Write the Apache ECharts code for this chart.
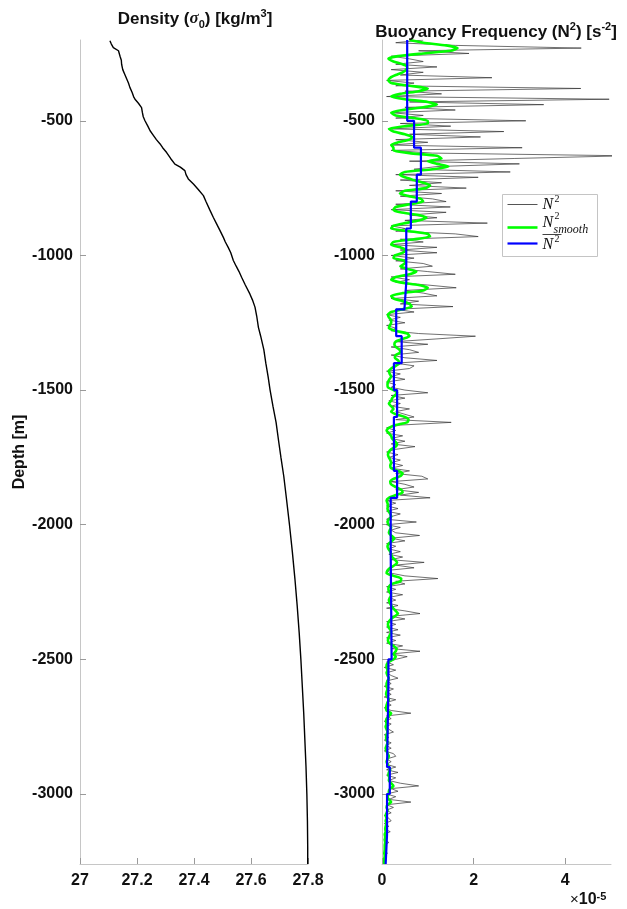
<!DOCTYPE html>
<html>
<head>
<meta charset="utf-8">
<script src="https://cdn.jsdelivr.net/npm/echarts@6/dist/echarts.min.js"></script>
<style>
  html, body { margin: 0; padding: 0; background: #fff; }
  #chart { width: 627px; height: 909px; }
</style>
</head>
<body>
<div id="chart"></div>
<script>
// ---- Potential density profile (sigma_0, kg/m^3) ----
const densityDepth = [
  -203, -215, -228, -240, -247, -262, -275, -290, -310, -330,
  -345, -360, -376, -395, -410, -420, -435, -451, -470, -485,
  -500, -520, -537, -555, -570, -586, -600, -618, -640, -661,
  -672, -685, -700, -716, -735, -755, -778, -800, -830, -859,
  -880, -905, -933, -950, -970, -990, -1019, -1040, -1060, -1081,
  -1110, -1143, -1165, -1192, -1225, -1267, -1300, -1350, -1400, -1450,
  -1500, -1560, -1620, -1690, -1750, -1820, -1900, -2000, -2100, -2200,
  -2300, -2400, -2500, -2600, -2700, -2800, -2900, -3000, -3100, -3200, -3260
];
const densitySigma = [
  27.105, 27.110, 27.117, 27.135, 27.140, 27.141, 27.145, 27.146, 27.150, 27.158,
  27.164, 27.170, 27.175, 27.183, 27.188, 27.193, 27.205, 27.216, 27.219, 27.222,
  27.228, 27.238, 27.246, 27.258, 27.268, 27.281, 27.290, 27.304, 27.318, 27.333,
  27.352, 27.368, 27.372, 27.380, 27.398, 27.415, 27.433, 27.442, 27.455, 27.468,
  27.478, 27.490, 27.503, 27.510, 27.520, 27.529, 27.538, 27.548, 27.558, 27.567,
  27.580, 27.596, 27.605, 27.614, 27.620, 27.626, 27.634, 27.645, 27.652, 27.660,
  27.667, 27.677, 27.688, 27.697, 27.705, 27.715, 27.724, 27.735, 27.745, 27.754,
  27.762, 27.769, 27.775, 27.780, 27.785, 27.789, 27.793, 27.796, 27.798, 27.799, 27.799
];

// ---- Buoyancy frequency N^2 (units of 1e-5 s^-2), sampled every 10 m from 200 m ----
const n2TopDepth = -200;
const n2StepDepth = 10;
const n2Raw = [
  0.9, 0.3, 1.6, 4.35, 0.8, 1.9, 0.2, 0.6, 0.9, 0.3,        // -200
  1.2, 0.2, 0.9, 0.4, 2.4, 0.1, 0.7, 0.3, 4.34, 0.5,        // -300
  1.3, 0.1, 4.96, 0.6, 3.53, 0.5, 1.6, 0.2, 0.9, 0.3,       // -400
  3.14, 0.4, 1.5, 0.2, 2.66, 0.6, 2.15, 0.3, 1.0, 0.2,      // -500
  3.06, 0.2, 1.1, 5.3, 2.9, 0.6, 3.0, 1.2, 0.7, 2.8,        // -600
  0.3, 2.1, 0.4, 1.3, 0.6, 1.84, 0.3, 1.3, 0.4, 1.1,        // -700
  1.4, 0.3, 1.49, 0.2, 1.4, 0.6, 1.2, 0.5, 2.3, 0.2,        // -800
  0.5, 0.3, 1.6, 2.1, 0.4, 0.9, 0.2, 1.2, 0.4, 1.2,         // -900
  0.2, 0.7, 0.3, 0.9, 1.1, 0.4, 1.0, 1.6, 0.2, 0.6,         // -1000
  0.3, 1.0, 1.62, 0.5, 0.9, 1.2, 0.2, 0.8, 0.4, 1.55,       // -1100
  0.3, 0.7, 0.1, 0.4, 0.15, 0.5, 0.1, 0.3, 0.2, 0.8,        // -1200
  2.04, 1.2, 0.3, 1.0, 0.2, 0.6, 0.8, 0.2, 0.5, 1.2,        // -1300
  0.3, 0.7, 0.6, 0.1, 0.4, 0.2, 0.5, 0.1, 0.3, 0.2,         // -1400
  0.5, 1.0, 0.2, 0.5, 0.15, 0.4, 0.2, 0.6, 0.3, 0.5,        // -1500
  0.7, 0.3, 1.51, 0.4, 0.1, 0.3, 0.1, 0.45, 0.2, 0.5,       // -1600
  0.2, 0.72, 0.3, 0.1, 0.35, 0.15, 0.4, 0.2, 0.45, 0.2,     // -1700
  0.6, 0.3, 0.87, 1.0, 0.2, 0.5, 0.7, 0.3, 0.8, 0.4,        // -1800
  1.05, 0.1, 0.3, 0.1, 0.35, 0.1, 0.4, 0.2, 0.1, 0.75,      // -1900
  0.1, 0.4, 0.2, 0.3, 0.82, 0.2, 0.5, 0.1, 0.3, 0.15,       // -2000
  0.4, 0.15, 0.45, 0.2, 0.92, 0.3, 0.7, 0.1, 0.2, 0.5,      // -2100
  1.22, 0.3, 0.5, 0.1, 0.3, 0.1, 0.45, 0.15, 0.3, 0.1,      // -2200
  0.35, 0.1, 0.5, 0.83, 0.2, 0.5, 0.1, 0.3, 0.1, 0.35,      // -2300
  0.1, 0.4, 0.1, 0.3, 0.1, 0.45, 0.2, 0.83, 0.2, 0.55,      // -2400
  0.3, 0.1, 0.25, 0.05, 0.3, 0.1, 0.2, 0.35, 0.1, 0.2,      // -2500
  0.05, 0.25, 0.1, 0.2, 0.05, 0.3, 0.1, 0.2, 0.05, 0.2,     // -2600
  0.63, 0.1, 0.2, 0.05, 0.2, 0.1, 0.15, 0.25, 0.05, 0.15,   // -2700
  0.05, 0.2, 0.1, 0.2, 0.05, 0.25, 0.3, 0.1, 0.2, 0.1,      // -2800
  0.3, 0.1, 0.35, 0.1, 0.3, 0.15, 0.4, 0.8, 0.2, 0.35,      // -2900
  0.1, 0.3, 0.15, 0.63, 0.1, 0.25, 0.1, 0.2, 0.05, 0.15,    // -3000
  0.2, 0.05, 0.15, 0.05, 0.18, 0.05, 0.12, 0.04, 0.15, 0.05,// -3100
  0.1, 0.04, 0.12, 0.05, 0.08, 0.04, 0.06                   // -3200
];
const n2Smooth = [
  0.6, 0.9, 1.4, 1.65, 1.5, 0.9, 0.35, 0.14, 0.25, 0.45,     // -200
  0.55, 0.53, 0.45, 0.3, 0.18, 0.14, 0.2, 0.6, 1.0, 0.8,     // -300
  0.4, 0.2, 0.5, 1.0, 1.2, 0.9, 0.45, 0.2, 0.3, 0.7,         // -400
  1.0, 1.0, 0.5, 0.15, 0.25, 0.5, 0.66, 0.6, 0.35, 0.2,      // -500
  0.25, 0.25, 0.6, 1.2, 1.3, 1.0, 1.2, 1.45, 1.1, 0.5,       // -600
  0.39, 0.5, 0.7, 0.9, 1.05, 0.95, 0.5, 0.39, 0.6, 0.85,     // -700
  0.9, 0.6, 0.3, 0.25, 0.4, 0.8, 0.97, 0.8, 0.5, 0.25,       // -800
  0.2, 0.6, 1.0, 1.05, 0.7, 0.25, 0.2, 0.4, 0.53, 0.45,      // -900
  0.28, 0.25, 0.5, 0.5, 0.4, 0.55, 0.75, 0.6, 0.3, 0.2,      // -1000
  0.4, 0.8, 1.0, 0.9, 0.45, 0.2, 0.25, 0.45, 0.6, 0.65,      // -1100
  0.45, 0.2, 0.13, 0.15, 0.2, 0.2, 0.17, 0.15, 0.3, 0.55,    // -1200
  0.6, 0.45, 0.3, 0.27, 0.3, 0.38, 0.4, 0.3, 0.28, 0.35,     // -1300
  0.38, 0.3, 0.2, 0.15, 0.17, 0.2, 0.16, 0.13, 0.12, 0.13,   // -1400
  0.25, 0.33, 0.28, 0.22, 0.2, 0.15, 0.2, 0.25, 0.2, 0.3,    // -1500
  0.5, 0.58, 0.55, 0.3, 0.15, 0.1, 0.15, 0.2, 0.22, 0.28,    // -1600
  0.33, 0.3, 0.2, 0.15, 0.13, 0.15, 0.18, 0.2, 0.18, 0.2,    // -1700
  0.35, 0.45, 0.4, 0.25, 0.18, 0.2, 0.3, 0.42, 0.45, 0.3,    // -1800
  0.15, 0.1, 0.12, 0.13, 0.12, 0.14, 0.18, 0.2, 0.15, 0.12,  // -1900
  0.15, 0.2, 0.17, 0.15, 0.2, 0.27, 0.22, 0.15, 0.12, 0.14,  // -2000
  0.18, 0.2, 0.22, 0.28, 0.33, 0.28, 0.18, 0.12, 0.1, 0.25,  // -2100
  0.42, 0.4, 0.22, 0.15, 0.14, 0.16, 0.2, 0.18, 0.15, 0.17,  // -2200
  0.2, 0.24, 0.3, 0.35, 0.28, 0.2, 0.15, 0.13, 0.14, 0.18,   // -2300
  0.2, 0.17, 0.14, 0.13, 0.16, 0.25, 0.32, 0.3, 0.25, 0.3,   // -2400
  0.25, 0.15, 0.1, 0.1, 0.12, 0.1, 0.12, 0.15, 0.12, 0.1,    // -2500
  0.1, 0.12, 0.1, 0.09, 0.12, 0.15, 0.12, 0.1, 0.09, 0.1,    // -2600
  0.2, 0.15, 0.1, 0.09, 0.1, 0.08, 0.1, 0.12, 0.1, 0.09,     // -2700
  0.1, 0.12, 0.1, 0.08, 0.1, 0.12, 0.15, 0.12, 0.1, 0.12,    // -2800
  0.15, 0.18, 0.15, 0.14, 0.16, 0.15, 0.2, 0.25, 0.18, 0.15, // -2900
  0.15, 0.12, 0.15, 0.2, 0.12, 0.1, 0.12, 0.1, 0.08, 0.1,    // -3000
  0.08, 0.1, 0.08, 0.07, 0.08, 0.06, 0.07, 0.06, 0.07, 0.06, // -3100
  0.06, 0.06, 0.05, 0.06, 0.05, 0.05, 0.05                   // -3200
];

// ---- Layer-mean N^2 (units of 1e-5 s^-2) ----
const layerTop    = [-200, -500, -600, -700, -800, -900, -1100, -1200, -1300, -1400, -1500, -1600, -1800, -1900, -2100, -2500, -2600, -2900, -3000, -3150];
const layerBottom = [-500, -600, -700, -800, -900, -1100, -1200, -1300, -1400, -1500, -1600, -1800, -1900, -2100, -2500, -2600, -2900, -3000, -3150, -3260];
const layerMean   = [0.55, 0.70, 0.85, 0.76, 0.63, 0.53, 0.49, 0.31, 0.43, 0.26, 0.33, 0.26, 0.33, 0.19, 0.21, 0.14, 0.11, 0.17, 0.11, 0.08];

// ---- Axis ticks ----
const depthTicks = [-3000, -2500, -2000, -1500, -1000, -500];
const sigmaTicks = [27, 27.2, 27.4, 27.6, 27.8];
const n2Ticks = [0, 2, 4];

const depthMin = -3260, depthMax = -200;

const SANS = '"Liberation Sans", Arial, Helvetica, sans-serif';
const SERIF = '"Liberation Serif", "DejaVu Serif", serif';
const INK = '#111';
const AXIS_GREY = '#c6c6c6';
const TICK_GREY = '#9a9a9a';

const n2Depth = n2Raw.map((_, i) => n2TopDepth - i * n2StepDepth);
const rawPoints = n2Raw.map((v, i) => [v, n2Depth[i]]);
const smoothPoints = n2Smooth.map((v, i) => [v, n2Depth[i]]);
const meanPoints = [];
layerMean.forEach((v, i) => {
  meanPoints.push([v, layerTop[i]]);
  meanPoints.push([v, layerBottom[i]]);
});
const densityPoints = densitySigma.map((s, i) => [s, densityDepth[i]]);

const plainNumber = v => String(v);

function depthAxis(gridIndex, withName) {
  const ax = {
    type: 'value', gridIndex, min: depthMin, max: depthMax,
    axisLine: { show: true, onZero: false, lineStyle: { color: AXIS_GREY, width: 1 } },
    axisTick: { show: true, inside: true, length: 6, customValues: depthTicks, lineStyle: { color: TICK_GREY } },
    axisLabel: { customValues: depthTicks, formatter: plainNumber, fontFamily: SANS, fontWeight: 'bold', fontSize: 16, color: INK, margin: 7 },
    splitLine: { show: false }
  };
  if (withName) {
    ax.name = 'Depth [m]';
    ax.nameLocation = 'middle';
    ax.nameGap = 52;
    ax.nameTextStyle = { fontFamily: SANS, fontWeight: 'bold', fontSize: 16, color: INK };
  }
  return ax;
}

const titleRich = {
  b: { fontFamily: SANS, fontWeight: 'bold', fontSize: 17, color: INK, lineHeight: 22 },
  g: { fontFamily: SERIF, fontStyle: 'italic', fontSize: 17, color: INK, lineHeight: 22 },
  sup: { fontFamily: SANS, fontWeight: 'bold', fontSize: 11, color: INK, lineHeight: 11, verticalAlign: 'top' },
  sub: { fontFamily: SANS, fontWeight: 'bold', fontSize: 11, color: INK, lineHeight: 11, verticalAlign: 'bottom' }
};

const chart = echarts.init(document.getElementById('chart'), null, { renderer: 'canvas' });
chart.setOption({
  animation: false,
  backgroundColor: '#fff',
  title: [
    {
      text: '{b|Density (}{g|σ}{sub|0}{b|) [kg/m}{sup|3}{b|]}',
      left: 190, top: 3, textAlign: 'center',
      textStyle: { rich: titleRich }
    },
    {
      text: '{b|Buoyancy Frequency (N}{sup|2}{b|) [s}{sup|-2}{b|]}',
      left: 491, top: 16, textAlign: 'center',
      textStyle: { rich: titleRich }
    }
  ],
  grid: [
    { left: 80, right: 319, top: 40, bottom: 45 },
    { left: 382, right: 16, top: 40, bottom: 45 }
  ],
  xAxis: [
    {
      type: 'value', gridIndex: 0, min: 27, max: 27.8,
      axisLine: { show: true, onZero: false, lineStyle: { color: AXIS_GREY, width: 1 } },
      axisTick: { show: true, inside: true, length: 6, customValues: sigmaTicks, lineStyle: { color: TICK_GREY } },
      axisLabel: { customValues: sigmaTicks, formatter: plainNumber, fontFamily: SANS, fontWeight: 'bold', fontSize: 16, color: INK, margin: 9 },
      splitLine: { show: false }
    },
    {
      type: 'value', gridIndex: 1, min: 0, max: 5,
      axisLine: { show: true, onZero: false, lineStyle: { color: AXIS_GREY, width: 1 } },
      axisTick: { show: true, inside: true, length: 6, customValues: n2Ticks, lineStyle: { color: TICK_GREY } },
      axisLabel: { customValues: n2Ticks, formatter: plainNumber, fontFamily: SANS, fontWeight: 'bold', fontSize: 16, color: INK, margin: 9 },
      splitLine: { show: false }
    }
  ],
  yAxis: [depthAxis(0, true), depthAxis(1, false)],
  series: [
    {
      name: 'sigma0', type: 'line', xAxisIndex: 0, yAxisIndex: 0,
      data: densityPoints, showSymbol: false, symbol: 'none',
      lineStyle: { color: '#000', width: 1.4 }
    },
    {
      name: 'N2', type: 'line', xAxisIndex: 1, yAxisIndex: 1,
      data: rawPoints, symbol: 'none', clip: true,
      lineStyle: { color: '#333', width: 0.7 }
    },
    {
      name: 'N2 smooth', type: 'line', xAxisIndex: 1, yAxisIndex: 1,
      data: smoothPoints, symbol: 'none', smooth: 0.2, clip: true,
      lineStyle: { color: '#00ff00', width: 2.6 }
    },
    {
      name: 'N2 mean', type: 'line', xAxisIndex: 1, yAxisIndex: 1,
      data: meanPoints, symbol: 'none', clip: true,
      lineStyle: { color: '#0000ff', width: 2.2 }
    }
  ],
  graphic: [
    // scale factor for the N^2 axis
    {
      type: 'text', left: 570, top: 891,
      style: {
        text: '{x|×}{t|10}{s|-5}',
        rich: {
          x: { fontFamily: SANS, fontSize: 15, fill: INK, lineHeight: 18 },
          t: { fontFamily: SANS, fontWeight: 'bold', fontSize: 16, fill: INK, lineHeight: 18 },
          s: { fontFamily: SANS, fontWeight: 'bold', fontSize: 11, fill: INK, lineHeight: 11, verticalAlign: 'top' }
        }
      }
    },
    // legend box
    {
      type: 'group', left: 502, top: 194,
      children: [
        { type: 'rect', shape: { x: 0, y: 0, width: 95, height: 62 }, style: { fill: '#fff', stroke: '#c4c4c4', lineWidth: 1 } },
        { type: 'line', shape: { x1: 5, y1: 10, x2: 35, y2: 10 }, style: { stroke: '#555', lineWidth: 1 } },
        { type: 'text', x: 40, y: 2, style: { text: 'N', fontFamily: SERIF, fontStyle: 'italic', fontSize: 16, fill: INK } },
        { type: 'text', x: 52, y: 0, style: { text: '2', fontFamily: SERIF, fontSize: 10, fill: INK } },
        { type: 'line', shape: { x1: 5, y1: 33, x2: 35, y2: 33 }, style: { stroke: '#00ff00', lineWidth: 2.6 } },
        { type: 'text', x: 40, y: 20, style: { text: 'N', fontFamily: SERIF, fontStyle: 'italic', fontSize: 16, fill: INK } },
        { type: 'text', x: 52, y: 17, style: { text: '2', fontFamily: SERIF, fontSize: 10, fill: INK } },
        { type: 'text', x: 51, y: 29, style: { text: 'smooth', fontFamily: SERIF, fontStyle: 'italic', fontSize: 12, fill: INK } },
        { type: 'line', shape: { x1: 5, y1: 49, x2: 35, y2: 49 }, style: { stroke: '#0000ff', lineWidth: 2.2 } },
        { type: 'text', x: 40, y: 42, style: { text: 'N', fontFamily: SERIF, fontStyle: 'italic', fontSize: 16, fill: INK } },
        { type: 'text', x: 52, y: 40, style: { text: '2', fontFamily: SERIF, fontSize: 10, fill: INK } },
        { type: 'line', shape: { x1: 40, y1: 40, x2: 59, y2: 40 }, style: { stroke: INK, lineWidth: 0.8 } }
      ]
    }
  ]
});
</script>
</body>
</html>
